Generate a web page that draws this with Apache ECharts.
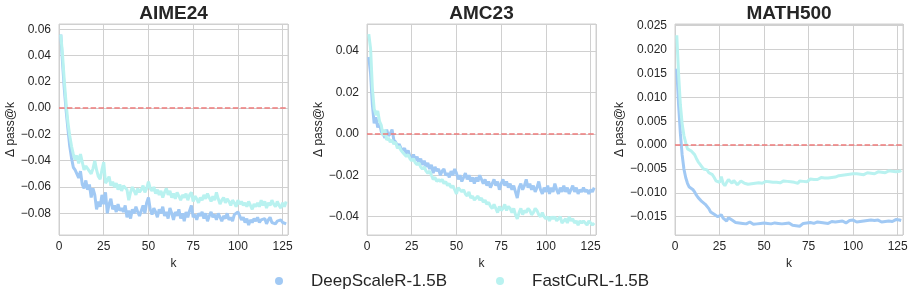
<!DOCTYPE html>
<html>
<head>
<meta charset="utf-8">
<script src="https://cdn.jsdelivr.net/npm/echarts@6/dist/echarts.min.js"></script>
<style>html,body{margin:0;padding:0;background:#fff}#c{width:914px;height:303px}</style>
</head>
<body>
<div id="c"></div>
<script>
// k values start at 1 and run to 127
const K_START = 1;
const panelTitles = ['AIME24', 'AMC23', 'MATH500'];
const seriesNames = ['DeepScaleR-1.5B', 'FastCuRL-1.5B'];
const xTickStep = 25;

const aimeDeep = [
 0.056, 0.034, 0.014, -0.002, -0.016, -0.029, -0.038, -0.045, -0.047, -0.046,
 -0.053, -0.048, -0.058, -0.061, -0.055, -0.062, -0.058, -0.068, -0.061, -0.066,
 -0.077, -0.071, -0.075, -0.066, -0.073, -0.064, -0.080, -0.073, -0.069, -0.077,
 -0.074, -0.079, -0.073, -0.078, -0.076, -0.079, -0.074, -0.083, -0.078, -0.084,
 -0.077, -0.080, -0.075, -0.079, -0.082, -0.078, -0.074, -0.080, -0.072, -0.068,
 -0.077, -0.081, -0.076, -0.079, -0.083, -0.077, -0.080, -0.075, -0.082, -0.079,
 -0.084, -0.076, -0.080, -0.085, -0.079, -0.082, -0.077, -0.084, -0.080, -0.086,
 -0.079, -0.083, -0.078, -0.074, -0.083, -0.081, -0.085, -0.080, -0.082, -0.079,
 -0.084, -0.080, -0.086, -0.082, -0.079, -0.083, -0.081, -0.085, -0.080, -0.083,
 -0.086, -0.082, -0.084, -0.080, -0.085, -0.083, -0.086, -0.081, -0.081, -0.079,
 -0.082, -0.085, -0.083, -0.087, -0.084, -0.089, -0.085, -0.087, -0.084, -0.086,
 -0.083, -0.087, -0.085, -0.086, -0.084, -0.088, -0.085, -0.083, -0.087, -0.086,
 -0.088, -0.086, -0.087, -0.085, -0.087, -0.088, -0.088
];
const aimeFast = [
 0.056, 0.040, 0.020, 0.003, -0.011, -0.021, -0.029, -0.035, -0.039, -0.036,
 -0.042, -0.035, -0.041, -0.047, -0.044, -0.046, -0.045, -0.050, -0.046, -0.040,
 -0.047, -0.052, -0.054, -0.047, -0.041, -0.057, -0.055, -0.052, -0.059, -0.056,
 -0.060, -0.057, -0.062, -0.058, -0.063, -0.059, -0.058, -0.062, -0.070, -0.064,
 -0.060, -0.063, -0.066, -0.061, -0.064, -0.062, -0.059, -0.064, -0.061, -0.056,
 -0.061, -0.063, -0.060, -0.065, -0.062, -0.066, -0.063, -0.068, -0.064, -0.061,
 -0.066, -0.063, -0.068, -0.065, -0.069, -0.064, -0.067, -0.070, -0.066, -0.068,
 -0.065, -0.070, -0.066, -0.064, -0.071, -0.067, -0.069, -0.072, -0.068, -0.070,
 -0.066, -0.069, -0.065, -0.068, -0.071, -0.067, -0.070, -0.064, -0.069, -0.073,
 -0.070, -0.068, -0.072, -0.069, -0.071, -0.074, -0.070, -0.072, -0.075, -0.070,
 -0.073, -0.071, -0.074, -0.072, -0.075, -0.071, -0.074, -0.077, -0.073, -0.075,
 -0.072, -0.075, -0.070, -0.074, -0.071, -0.076, -0.072, -0.074, -0.070, -0.073,
 -0.075, -0.071, -0.074, -0.076, -0.072, -0.075, -0.071
];
const amcDeep = [
 0.037, 0.029, 0.014, 0.005, 0.008, 0.003, 0.005, 0.001, 0.000, -0.002,
 0.002, -0.001, 0.000, 0.002, -0.003, -0.004, -0.006, -0.005, -0.007, -0.008,
 -0.007, -0.010, -0.008, -0.011, -0.012, -0.010, -0.013, -0.011, -0.014, -0.012,
 -0.015, -0.013, -0.016, -0.014, -0.017, -0.015, -0.019, -0.016, -0.018, -0.017,
 -0.020, -0.018, -0.017, -0.020, -0.019, -0.021, -0.018, -0.020, -0.017, -0.019,
 -0.022, -0.020, -0.023, -0.021, -0.019, -0.022, -0.020, -0.023, -0.021, -0.024,
 -0.021, -0.023, -0.020, -0.022, -0.024, -0.022, -0.025, -0.023, -0.026, -0.024,
 -0.022, -0.025, -0.023, -0.027, -0.024, -0.022, -0.025, -0.023, -0.026, -0.024,
 -0.027, -0.025, -0.028, -0.031, -0.026, -0.024, -0.027, -0.025, -0.022, -0.026,
 -0.024, -0.027, -0.025, -0.028, -0.026, -0.023, -0.027, -0.029, -0.026, -0.028,
 -0.025, -0.029, -0.026, -0.028, -0.024, -0.027, -0.029, -0.026, -0.028, -0.025,
 -0.028, -0.026, -0.029, -0.027, -0.025, -0.028, -0.026, -0.029, -0.027, -0.028,
 -0.026, -0.028, -0.027, -0.029, -0.027, -0.028, -0.026
];
const amcFast = [
 0.048, 0.041, 0.022, 0.012, 0.009, 0.011, 0.006, 0.004, -0.001, 0.002,
 -0.003, -0.002, -0.004, -0.003, -0.005, -0.004, -0.007, -0.006, -0.008, -0.009,
 -0.010, -0.011, -0.010, -0.012, -0.013, -0.012, -0.014, -0.015, -0.014, -0.016,
 -0.017, -0.016, -0.018, -0.019, -0.018, -0.020, -0.022, -0.021, -0.023, -0.022,
 -0.023, -0.022, -0.024, -0.023, -0.025, -0.024, -0.026, -0.025, -0.027, -0.029,
 -0.026, -0.027, -0.028, -0.027, -0.029, -0.030, -0.028, -0.031, -0.030, -0.032,
 -0.031, -0.030, -0.032, -0.031, -0.033, -0.032, -0.034, -0.033, -0.035, -0.036,
 -0.034, -0.036, -0.038, -0.035, -0.037, -0.036, -0.034, -0.037, -0.035, -0.036,
 -0.038, -0.036, -0.039, -0.041, -0.038, -0.036, -0.039, -0.037, -0.038, -0.036,
 -0.037, -0.039, -0.038, -0.036, -0.037, -0.039, -0.040, -0.038, -0.040, -0.041,
 -0.040, -0.042, -0.040, -0.041, -0.040, -0.042, -0.041, -0.040, -0.043, -0.042,
 -0.041, -0.043, -0.040, -0.042, -0.041, -0.043, -0.042, -0.044, -0.042, -0.043,
 -0.042, -0.043, -0.044, -0.042, -0.043, -0.044, -0.043
];
const mathDeep = [
 0.0160, 0.0085, 0.0025, -0.0020, -0.0050, -0.0068, -0.0080, -0.0088, -0.0090, -0.0093,
 -0.0098, -0.0105, -0.0110, -0.0112, -0.0118, -0.0117, -0.0124, -0.0128, -0.0133, -0.0140,
 -0.0142, -0.0145, -0.0147, -0.0150, -0.0149, -0.0146, -0.0153, -0.0155, -0.0159, -0.0152,
 -0.0150, -0.0157, -0.0160, -0.0162, -0.0165, -0.0163, -0.0161, -0.0164, -0.0162, -0.0165,
 -0.0163, -0.0161, -0.0164, -0.0166, -0.0163, -0.0165, -0.0162, -0.0164, -0.0167, -0.0163,
 -0.0166, -0.0164, -0.0161, -0.0165, -0.0167, -0.0163, -0.0166, -0.0164, -0.0162, -0.0165,
 -0.0167, -0.0164, -0.0166, -0.0163, -0.0165, -0.0168, -0.0166, -0.0169, -0.0165, -0.0170,
 -0.0166, -0.0164, -0.0167, -0.0163, -0.0165, -0.0162, -0.0166, -0.0164, -0.0163, -0.0161,
 -0.0164, -0.0162, -0.0165, -0.0163, -0.0161, -0.0164, -0.0162, -0.0160, -0.0163, -0.0161,
 -0.0163, -0.0160, -0.0162, -0.0159, -0.0161, -0.0163, -0.0160, -0.0158, -0.0161, -0.0157,
 -0.0159, -0.0161, -0.0158, -0.0160, -0.0162, -0.0159, -0.0161, -0.0158, -0.0160, -0.0157,
 -0.0160, -0.0158, -0.0161, -0.0157, -0.0159, -0.0161, -0.0158, -0.0160, -0.0156, -0.0159,
 -0.0157, -0.0160, -0.0158, -0.0156, -0.0159, -0.0157, -0.0158
];
const mathFast = [
 0.0230, 0.0150, 0.0085, 0.0045, 0.0020, 0.0005, -0.0008, -0.0010, -0.0012, -0.0015,
 -0.0020, -0.0028, -0.0035, -0.0040, -0.0045, -0.0050, -0.0048, -0.0052, -0.0058, -0.0060,
 -0.0062, -0.0068, -0.0075, -0.0072, -0.0078, -0.0066, -0.0080, -0.0085, -0.0078, -0.0072,
 -0.0076, -0.0080, -0.0074, -0.0078, -0.0083, -0.0079, -0.0075, -0.0077, -0.0080, -0.0078,
 -0.0082, -0.0079, -0.0081, -0.0078, -0.0080, -0.0083, -0.0079, -0.0077, -0.0080, -0.0078,
 -0.0076, -0.0079, -0.0077, -0.0080, -0.0078, -0.0075, -0.0078, -0.0076, -0.0079, -0.0077,
 -0.0075, -0.0078, -0.0076, -0.0079, -0.0077, -0.0074, -0.0078, -0.0076, -0.0080, -0.0075,
 -0.0073, -0.0076, -0.0074, -0.0077, -0.0073, -0.0071, -0.0074, -0.0072, -0.0070, -0.0072,
 -0.0070, -0.0068, -0.0071, -0.0069, -0.0067, -0.0069, -0.0066, -0.0068, -0.0065, -0.0067,
 -0.0065, -0.0064, -0.0066, -0.0063, -0.0065, -0.0062, -0.0064, -0.0061, -0.0063, -0.0060,
 -0.0062, -0.0060, -0.0063, -0.0061, -0.0059, -0.0062, -0.0060, -0.0058, -0.0061, -0.0059,
 -0.0057, -0.0060, -0.0058, -0.0056, -0.0059, -0.0057, -0.0055, -0.0058, -0.0056, -0.0054,
 -0.0057, -0.0055, -0.0053, -0.0056, -0.0054, -0.0055, -0.0053
];

const panelData = [[aimeDeep, aimeFast], [amcDeep, amcFast], [mathDeep, mathFast]];

// layout / style (kept separate from data)
const FONT = '"Liberation Sans", Arial, Helvetica, sans-serif';
const TXT = '#262626';
const GRIDC = '#d0d0d0';
const COLORS = ['#a1c9f4', '#b9f2f0'];
const grids = [
  {left: 59, top: 24, width: 229, height: 211},
  {left: 367, top: 24, width: 229, height: 211},
  {left: 675, top: 24, width: 228, height: 211}
];
const yCfg = [
  {min: -0.0965, max: 0.0640, step: 0.02, dec: 2, gap: 41},
  {min: -0.0488, max: 0.0529, step: 0.02, dec: 2, gap: 40},
  {min: -0.01883, max: 0.02536, step: 0.005, dec: 3, gap: 47}
];

function fmt(dec) {
  return function (v) {
    if (Math.abs(v) < 1e-12) v = 0;
    const s = Math.abs(v).toFixed(dec);
    return (v < 0 ? '\u2212' : '') + s;
  };
}

const chart = echarts.init(document.getElementById('c'), null, {renderer: 'canvas'});

const option = {
  animation: false,
  backgroundColor: '#ffffff',
  textStyle: {fontFamily: FONT, color: TXT},
  title: panelTitles.map((t, i) => ({
    text: t,
    left: grids[i].left + grids[i].width / 2,
    top: 4,
    padding: 0,
    textAlign: 'center',
    textStyle: {fontFamily: FONT, fontSize: 19, fontWeight: 'bold', color: TXT, lineHeight: 19}
  })),
  legend: seriesNames.map((n, i) => ({
    data: [n],
    left: i === 0 ? 275 : 496,
    top: 272,
    padding: 0,
    icon: 'circle',
    itemWidth: 8,
    itemHeight: 8,
    selectedMode: false,
    textStyle: {fontFamily: FONT, fontSize: 17, color: TXT, lineHeight: 18, padding: [0, 0, 0, 23]}
  })),
  grid: grids.map(g => Object.assign({show: true, borderColor: GRIDC, borderWidth: 1, backgroundColor: 'transparent', containLabel: false}, g)),
  xAxis: grids.map((g, i) => ({
    type: 'value',
    gridIndex: i,
    min: 0,
    max: 128,
    interval: xTickStep,
    name: 'k',
    nameLocation: 'middle',
    nameGap: 20,
    nameTextStyle: {fontFamily: FONT, fontSize: 12, color: TXT},
    axisLine: {show: false},
    axisTick: {show: false},
    axisLabel: {fontFamily: FONT, fontSize: 12, color: TXT, margin: 6, showMaxLabel: false},
    splitLine: {show: true, lineStyle: {color: GRIDC, width: 1}}
  })),
  yAxis: yCfg.map((c, i) => ({
    type: 'value',
    gridIndex: i,
    min: c.min,
    max: c.max,
    minInterval: c.step,
    maxInterval: c.step,
    splitNumber: 8,
    name: '\u0394 pass@k',
    nameLocation: 'middle',
    nameGap: c.gap,
    nameTextStyle: {fontFamily: FONT, fontSize: 12, color: TXT},
    axisLine: {show: false},
    axisTick: {show: false},
    axisLabel: {fontFamily: FONT, fontSize: 12, color: TXT, margin: 8, showMinLabel: false, showMaxLabel: false, formatter: fmt(c.dec)},
    splitLine: {show: true, lineStyle: {color: GRIDC, width: 1}}
  })),
  series: []
};

panelData.forEach((pair, p) => {
  pair.forEach((vals, s) => {
    const ser = {
      type: 'line',
      name: seriesNames[s],
      xAxisIndex: p,
      yAxisIndex: p,
      data: vals.map((v, i) => [K_START + i, v]),
      showSymbol: false,
      symbol: 'circle',
      smooth: false,
      color: COLORS[s],
      lineStyle: {color: COLORS[s], width: 3},
      itemStyle: {color: COLORS[s]},
      z: 2 + s
    };
    if (s === 1) {
      ser.markLine = {
        silent: true,
        symbol: ['none', 'none'],
        label: {show: false},
        lineStyle: {color: '#ee7b7b', width: 1.5, type: [5.5, 2.4], opacity: 1},
        data: [{yAxis: 0}],
        z: 5
      };
    }
    option.series.push(ser);
  });
});

chart.setOption(option);
</script>
</body>
</html>
